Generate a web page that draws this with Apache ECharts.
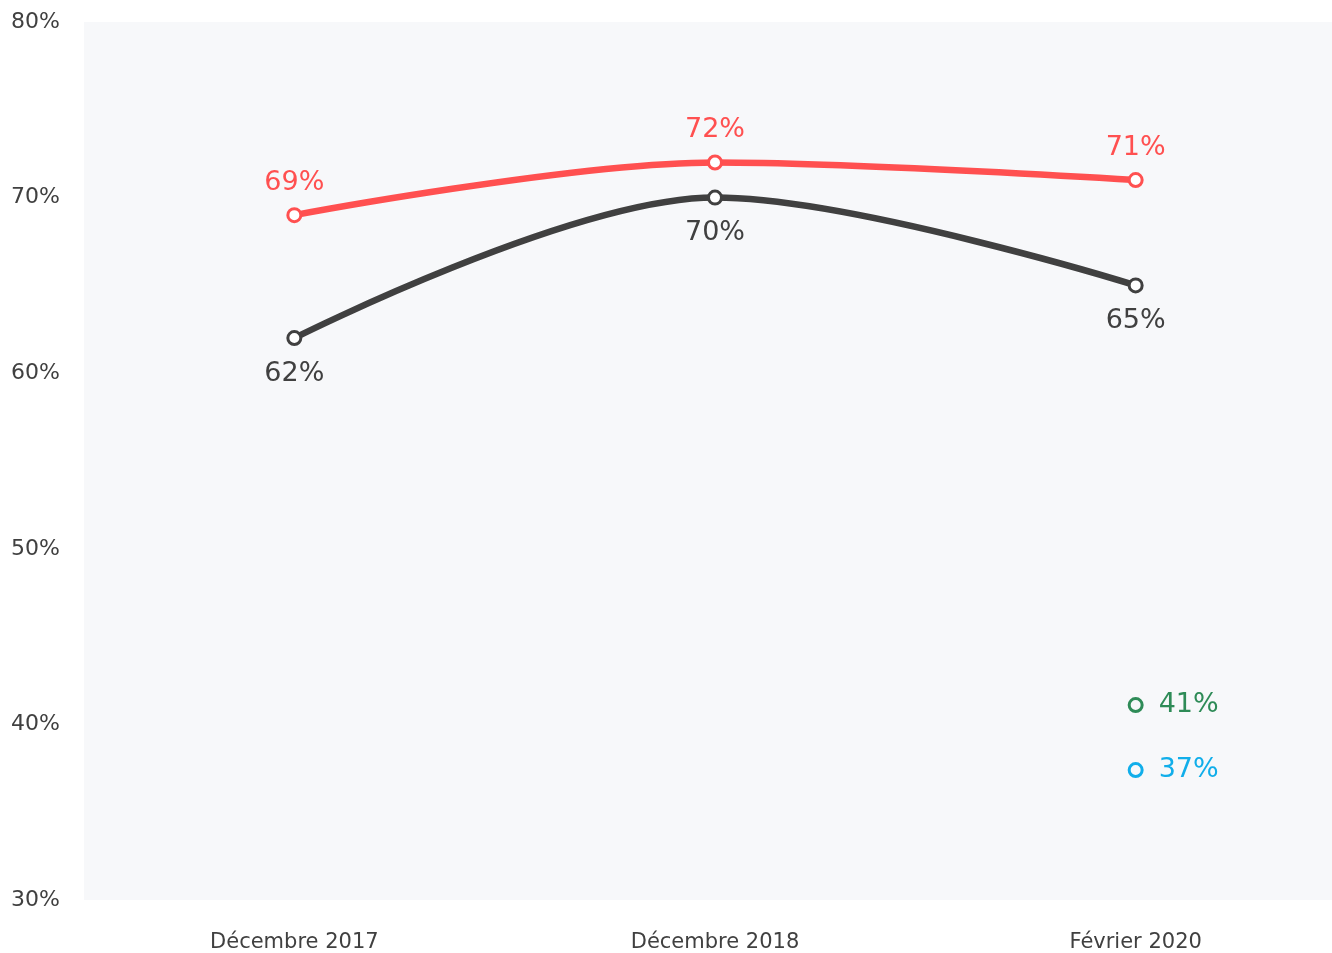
<!DOCTYPE html>
<html>
<head>
<meta charset="utf-8">
<script src="https://cdn.jsdelivr.net/npm/echarts@6/dist/echarts.min.js"></script>
<style>html,body{margin:0;padding:0;background:#fff}#c{width:1332px;height:953px}</style>
</head>
<body>
<div id="c"></div>
<script>
var categories = ['Décembre 2017', 'Décembre 2018', 'Février 2020'];
var redValues = [69, 72, 71];
var darkValues = [62, 70, 65];
var greenValues = [null, null, 41.1];
var blueValues = [null, null, 37.4];
var yTicks = { min: 30, max: 80, interval: 10 };

var FONT = 'DejaVu Sans';
function pct(p) { return Math.round(p.value) + '%'; }

var chart = echarts.init(document.getElementById('c'), null, { renderer: 'canvas' });
chart.setOption({
  animation: false,
  grid: { left: 84, right: -14, top: 22, bottom: 53, outerBoundsMode: 'none', containLabel: false, show: true, backgroundColor: '#f7f8fa', borderWidth: 0 },
  xAxis: {
    type: 'category', data: categories, boundaryGap: true,
    axisLine: { show: false }, axisTick: { show: false }, splitLine: { show: false },
    axisLabel: { color: '#404040', fontSize: 21, fontFamily: FONT, margin: 32 }
  },
  yAxis: {
    type: 'value', min: yTicks.min, max: yTicks.max, interval: yTicks.interval,
    axisLine: { show: false }, axisTick: { show: false }, splitLine: { show: false },
    axisLabel: { color: '#404040', fontSize: 22, fontFamily: FONT, margin: 24, formatter: '{value}%' }
  },
  series: [
    {
      name: 'rouge', type: 'line', data: redValues, smooth: 0.33,
      symbol: 'circle', symbolSize: 13,
      lineStyle: { color: '#ff5050', width: 6.5 },
      itemStyle: { color: '#ffffff', borderColor: '#ff5050', borderWidth: 3 },
      label: { show: true, position: 'top', distance: 11, color: '#ff5050', fontSize: 27, fontFamily: FONT, formatter: pct },
      z: 3
    },
    {
      name: 'noir', type: 'line', data: darkValues, smooth: 0.33,
      symbol: 'circle', symbolSize: 13,
      lineStyle: { color: '#404040', width: 6.5 },
      itemStyle: { color: '#ffffff', borderColor: '#404040', borderWidth: 3 },
      label: { show: true, position: 'bottom', distance: 14, color: '#404040', fontSize: 27, fontFamily: FONT, formatter: pct },
      z: 3
    },
    {
      name: 'vert', type: 'line', data: greenValues,
      symbol: 'circle', symbolSize: 13, showAllSymbol: true,
      lineStyle: { width: 0 },
      itemStyle: { color: 'rgba(0,0,0,0)', borderColor: '#2e8b57', borderWidth: 3 },
      label: { show: true, position: 'right', distance: 15, color: '#2e8b57', fontSize: 27, fontFamily: FONT, formatter: pct }
    },
    {
      name: 'bleu', type: 'line', data: blueValues,
      symbol: 'circle', symbolSize: 13, showAllSymbol: true,
      lineStyle: { width: 0 },
      itemStyle: { color: 'rgba(0,0,0,0)', borderColor: '#11aeea', borderWidth: 3 },
      label: { show: true, position: 'right', distance: 15, color: '#11aeea', fontSize: 27, fontFamily: FONT, formatter: pct }
    }
  ]
});
</script>
</body>
</html>
